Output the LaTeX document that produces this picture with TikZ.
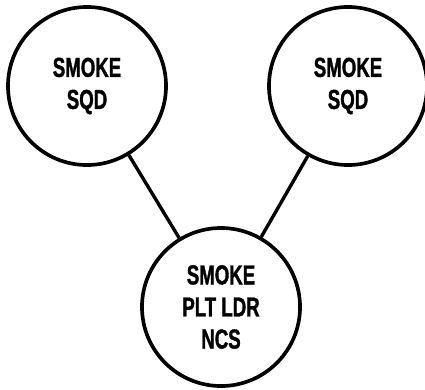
\documentclass[tikz,border=0pt]{standalone}
\usepackage{fontspec}
\newfontfamily\unitfont[FakeStretch=0.68, FakeBold=1.2]{Liberation Sans}
\usetikzlibrary{positioning}

\begin{document}
\begin{tikzpicture}[
    x=0.025cm, y=-0.025cm,
    unit/.style={circle, draw=black, line width=2.6pt, minimum size=3.95cm,
                 inner sep=0pt, align=center,
                 font=\unitfont\fontsize{19.5}{22.8}\selectfont\bfseries},
    link/.style={line width=2.4pt, color=black}
  ]
    \useasboundingbox (0,0) rectangle (425,389);

    \node[unit] (sqdl) at (87,86)   {SMOKE\\SQD};
    \node[unit] (sqdr) at (348,86)  {SMOKE\\SQD};
    \node[unit] (ldr)  at (221,307) {SMOKE\\PLT LDR\\NCS};

    \draw[link] (sqdl) -- (ldr);
    \draw[link] (sqdr) -- (ldr);
  \end{tikzpicture}
\end{document}
